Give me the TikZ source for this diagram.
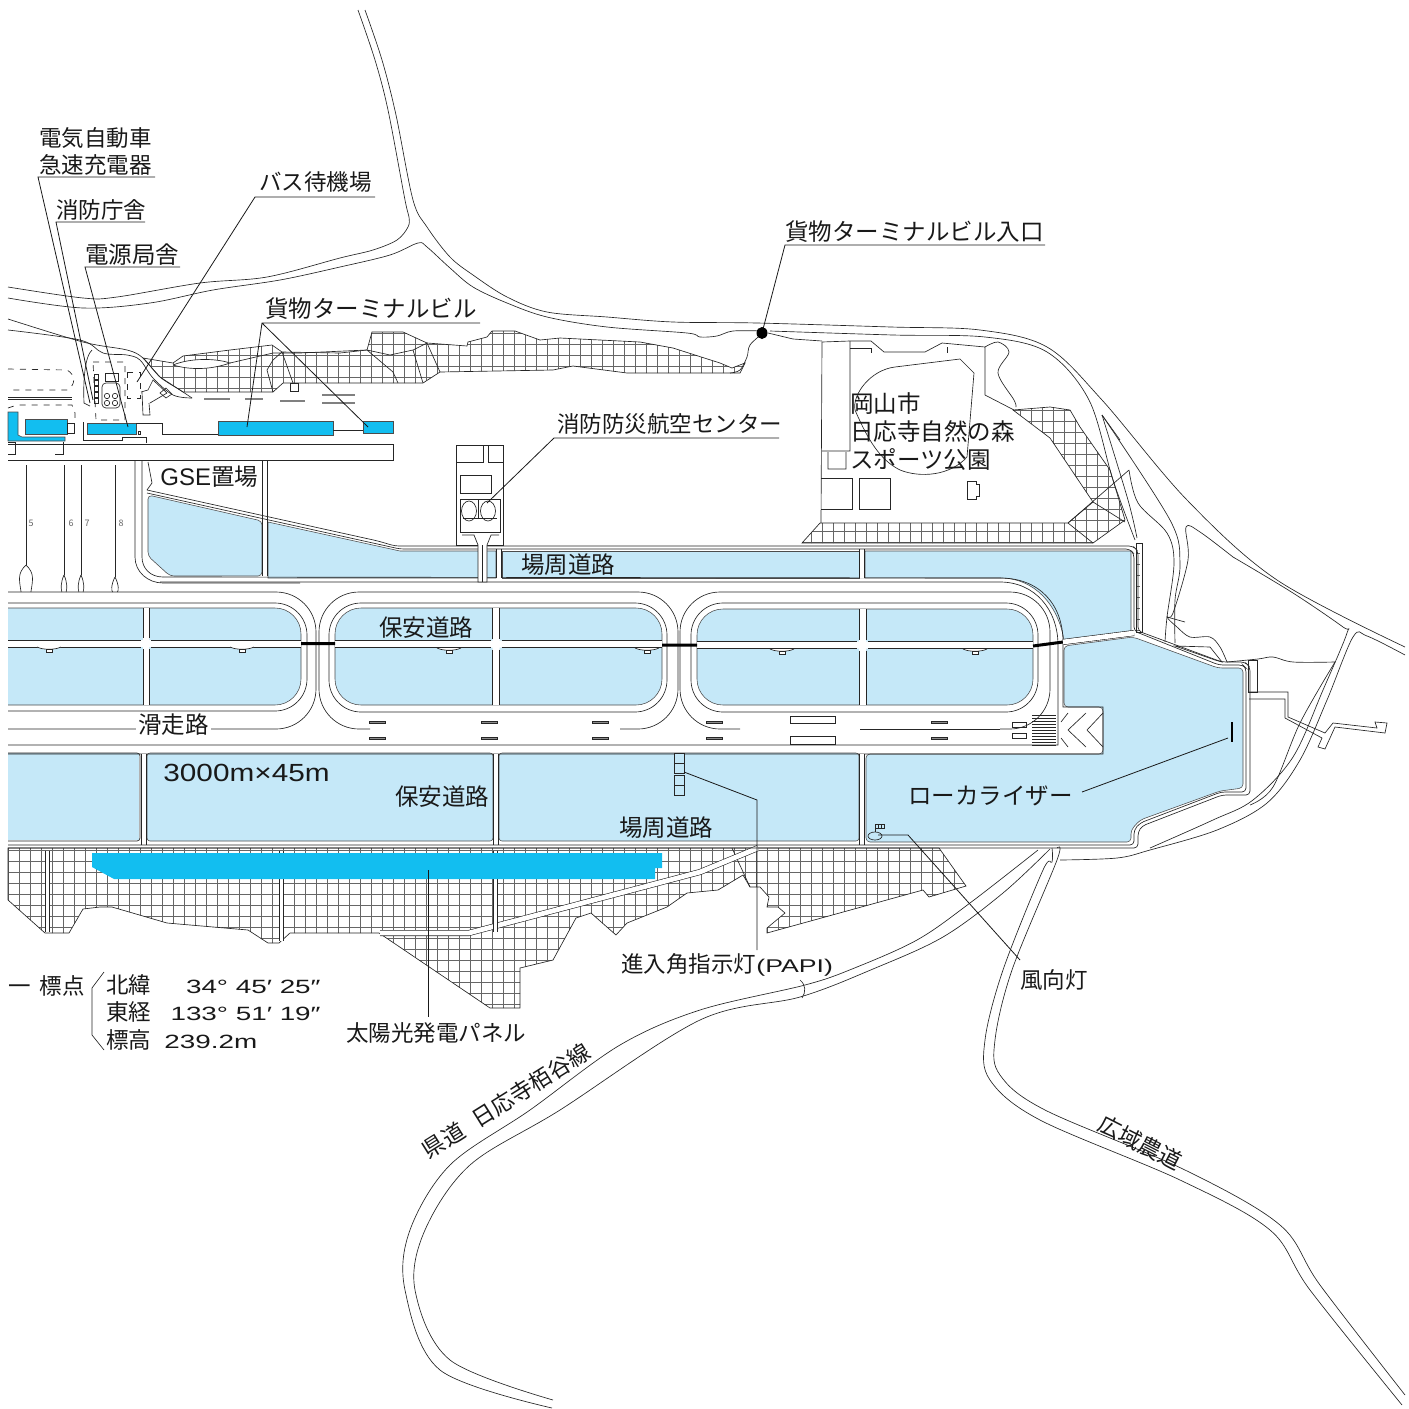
\documentclass[tikz,border=0pt]{standalone}
\usepackage{fontspec}
\setmainfont{Noto Sans CJK JP}
\newfontfamily\latw[FakeStretch=1.45]{Liberation Sans}
\newfontfamily\latm[FakeStretch=1.2]{Liberation Sans}
\newfontfamily\latn{Liberation Sans}
\definecolor{fieldblue}{HTML}{C5E8F8}
\definecolor{bldblue}{HTML}{12BEF0}
\newcommand\hatchgrid[1]{\begin{scope}\clip #1;
\foreach \gx in {8,19,...,1140}{\draw[gridline](\gx,320)--(\gx,1010);}
\foreach \gy in {322,333,...,1010}{\draw[gridline](8,\gy)--(1140,\gy);}
\end{scope}\draw[ln] #1;}
\tikzset{
 ln/.style={line width=.33pt,draw=black!85},
 gridline/.style={line width=.27pt,draw=black!60},
 lead/.style={line width=.4pt,draw=black!90},
 road/.style={line width=.3pt,draw=black!85,double=white,double distance=2.4pt},
 cv/.style={ln,smooth,tension=.55},
 lab/.style={anchor=west,inner sep=0pt,yshift=-.8pt,text height=.88em,text depth=.12em,text=black!90,font=\fontsize{11.75}{12}\selectfont},
 labs/.style={lab,font=\fontsize{11.25}{12}\selectfont},
 bld/.style={fill=bldblue,draw=black!70,line width=.3pt},
 fld/.style={fill=fieldblue,draw=black!70,line width=.28pt},
 num/.style={inner sep=0pt,text=black!60,font=\fontsize{4.5}{5}\selectfont}
}
\begin{document}
\begin{tikzpicture}[x=0.5pt,y=-0.5pt]
\useasboundingbox (0,0) rectangle (1409,1409);
% hatching
\hatchgrid{(8,848)--(939,848)--(966,886)--(929,897)--(923,890)--(767,933)--(767,928)--(785,913)--(778,907)--(767,907)--(769,897)--(760,887)--(750,887)--(743,875)--(718,890)--(687,893)--(667,907)--(627,923)--(616,935)--(591,913)--(576,918)--(553,960)--(520,968)--(520,1008)--(490,1008)--(379,933)--(290,933)--(279,943)--(268,943)--(248,930)--(167,923)--(112,907)--(100,907)--(83,909)--(69,933)--(45,933)--(8,900)--cycle}
\draw[ln] (732,848)--(750,887);
\hatchgrid{(143,358)--(173,363)--(183,356)--(230,350)--(272,345)--(282,352)--(340,353)--(367,350)--(372,332)--(403,332)--(427,343)--(467,346)--(468,342)--(487,337)--(492,331)--(515,331)--(540,340)--(560,338)--(640,342)--(673,348)--(720,363)--(732,368)--(745,363)--(740,373)--(627,373)--(573,366)--(553,370)--(440,372)--(423,383)--(283,383)--(273,392)--(183,392)--(160,377)--cycle}
\draw[ln,fill=white] (173,365)..controls(190,358)and(215,358)..(230,363)..controls(210,370)and(190,370)..(173,365);
\draw[ln] (230,363)--(273,353)--(300,353)--(367,350)--(393,372)--(398,383) (367,350)--(390,355)--(413,350)--(427,343)--(440,372) (413,350)--(423,383) (282,352)--(273,360)--(267,370)--(273,392) (282,352)--(293,383);
\hatchgrid{(1013,410)--(1050,407)--(1070,410)--(1080,427)--(1110,470)--(1125,520)--(1093,543)--(802,543)--(820,523)--(1068,523)--(1093,502)--(1050,438)--cycle}
\hatchgrid{(1136,543)--(1142,543)--(1142,632)--(1136,632)--cycle}
\hatchgrid{(1248,660)--(1257,660)--(1257,692)--(1248,692)--cycle}
\hatchgrid{(1175,646)--(1210,647)--(1222,662)--(1215,660)--cycle}
% white bands in the southern hatch
\draw[road] (380,933)--(469,933)--(700,872)--(758,848);
\draw[line width=2pt,white] (47,851)--(47,932) (281,851)--(281,941) (495,851)--(495,932);
\draw[ln] (45,851)--(45,932) (49,851)--(49,932) (279,851)--(279,941) (283,851)--(283,941) (493,851)--(493,932) (497,851)--(497,932);
% blue fields: three infield loops
\begin{scope}
\clip (8,0) rectangle (1409,1409);
\draw[fld,rounded corners=13pt] (-40,608) rectangle (301,705);
\end{scope}
\draw[fld,rounded corners=13pt] (335,608) rectangle (662,705);
\draw[fld,rounded corners=13pt] (697,609) rectangle (1033,705);
\fill[white] (8,640) rectangle (301,647) (143,608) rectangle (149,705);
\fill[white] (335,640.5) rectangle (662,647.5) (492.5,608) rectangle (499.5,705);
\fill[white] (697,641.5) rectangle (1033,648.5) (859,609) rectangle (866,705);
\draw[ln] (8,640)--(141,640) (151,640)--(301,640) (8,647)--(141,647) (151,647)--(301,647)
 (143,608)--(143,638) (149,608)--(149,638) (143,649)--(143,705) (149,649)--(149,705);
\draw[ln] (335,640.5)--(490.5,640.5) (501.5,640.5)--(662,640.5) (335,647.5)--(490.5,647.5) (501.5,647.5)--(662,647.5)
 (492.5,608)--(492.5,638.5) (499.5,608)--(499.5,638.5) (492.5,649.5)--(492.5,705) (499.5,649.5)--(499.5,705);
\draw[ln] (697,641.5)--(857,641.5) (868,641.5)--(1033,641.5) (697,648.5)--(857,648.5) (868,648.5)--(1033,648.5)
 (859,609)--(859,639.5) (866,609)--(866,639.5) (859,650.5)--(859,705) (866,650.5)--(866,705);
\foreach \bx/\by in {49/647,242/647,449/648,647/648,782/649,975/649}{
 \draw[ln,fill=white] (\bx-12,\by)..controls(\bx-6,\by+3)and(\bx+6,\by+3)..(\bx+12,\by);
 \draw[ln,fill=white] (\bx-3,\by+2) rectangle (\bx+3,\by+5);}
\draw[fld,rounded corners=2pt] (148,495)--(262,521)--(262,576)--(170,576)--(148,556)--cycle;
\draw[fld] (268,522)--(400,551)--(496,551)--(496,578)--(268,578)--cycle;
\draw[fld] (502,551)--(859,551)--(859,578)--(502,578)--cycle;
\draw[fld] (865,551)--(1131,551)--(1131,631)--(1064,640)..controls(1058,605)and(1035,578)..(1000,578)--(865,578)--cycle;
\fill[fieldblue] (8,753) rectangle (139,840);
\draw[ln,rounded corners=1.5pt] (8,753)--(140,753)--(140,841)--(8,841);
\draw[fld,rounded corners=1.5pt] (147,753) rectangle (493,841);
\draw[fld,rounded corners=1.5pt] (499,753) rectangle (859,841);
\draw[fld,rounded corners=2pt] (866,754)--(1103,754)--(1103,707)--(1064,707)--(1064,646)--(1133,637)--(1218,668)--(1243,668)--(1243,788)--(1220,791)--(1140,820)--(1131,830)--(1131,842)--(866,842)--cycle;
% buildings
\draw[bld] (8,412)--(18,412)--(18,435)--(22,437)--(65,437)--(65,441)--(8,441)--cycle;
\draw[bld] (25,419) rectangle (67,434);
\draw[bld] (87,423) rectangle (136,434);
\draw[bld] (218,421) rectangle (333,435);
\draw[bld] (363,421) rectangle (393,433);
\fill[bldblue] (92,853)--(662,853)--(662,868)--(655,868)--(655,879)--(114,879)--(92,867)--cycle;
% loop and runway lines
\draw[ln] (163,577)--(1000,578);
\draw[ln,rounded corners=20pt] (8,592)--(316,592)--(316,729)--(8,729);
\draw[ln,rounded corners=16pt] (8,603)--(307,603)--(307,711)--(8,711);
\draw[ln,rounded corners=20pt] (370,729)--(319,729)--(319,592)--(678,592)--(678,729)--(620,729);
\draw[ln,rounded corners=16pt] (600,712)--(667,712)--(667,603)--(329,603)--(329,712)--(600,712);
\draw[ln,rounded corners=20pt] (740,729)--(680,729)--(680,592)--(1050,592)--(1050,729)--(1000,729);
\draw[ln,rounded corners=16pt] (900,712)--(1038,712)--(1038,603)--(691,603)--(691,712)--(900,712);
\draw[ln] (160,582)--(1000,582)..controls(1035,582)and(1058,610)..(1058,645)--(1058,745)--(8,745);
\draw[ln] (1000,578)..controls(1040,578)and(1063,605)..(1063,642)--(1063,707)--(1103,707)--(1103,754)--(8,754);
\draw[ln] (860,729)--(1000,729);
\draw[line width=1.5pt,black] (301,643.5)--(335,643.5) (662,645)--(697,645) (1033,646)--(1063,642);
\draw[road] (1063,642)--(1134,633);
\draw[road] (144,754)--(144,845);
\draw[road] (496,754)--(496,845);
\draw[road] (862,754)--(862,845);
\draw[road] (265,461)--(265,576);
\draw[road] (862,549)--(862,578);
\draw[road] (499,549)--(499,578);
% perimeter
\draw[ln,rounded corners=2pt] (147,490)--(378,541)--(395,546)--(1133,546)--(1138,551)--(1138,631)--(1222,662)--(1245,662)--(1250,667)--(1250,795)--(1222,795)--(1142,826)--(1138,832)--(1138,848)--(8,848);
\draw[ln,rounded corners=2pt] (147,493)--(400,549)--(1130,549)--(1134,554)--(1134,631)--(1219,665)--(1243,665)--(1246,668)--(1246,792)--(1221,792)--(1140,823)--(1134,830)--(1134,845)--(8,845);
\draw[ln] (135,460)--(135,557)..controls(135,572)and(148,583)..(163,583)--(300,583);
\draw[ln] (142,460)--(142,557)..controls(142,568)and(150,577)..(163,577);
\draw[ln] (148,462)--(152,483)--(147,490);
% runway markings
\foreach \mx in {377,489,600,714,939}{
 \draw[ln,fill=black!45] (\mx-8,721) rectangle (\mx+8,723);
 \draw[ln,fill=black!45] (\mx-8,737) rectangle (\mx+8,739);}
\draw[ln] (790,716) rectangle (835,723) (790,736) rectangle (835,744);
\draw[ln] (1012,722) rectangle (1026,727) (1012,733) rectangle (1026,738);
\foreach \sy in {715,718,...,745}{\draw[ln](1032,\sy)--(1056,\sy);}
\draw[ln] (1103,713)--(1087,730)--(1103,747) (1086,713)--(1068,730)--(1086,747) (1068,713)--(1061,722) (1061,738)--(1068,747);
% PAPI
\foreach \py in {753,763,775,785}{\draw[ln,fill=fieldblue](674,\py) rectangle (684,\py+10);}
% wind cone
\draw[ln] (875,836) ellipse (7 and 4);
\draw[ln] (875,832)--(875,824)--(884,824)--(884,828)--(875,828) (878,824)--(878,828) (881,824)--(881,828);
% localizer
\draw[line width=1.2pt] (1232,722)--(1232,742);
% apron
\draw[ln] (8,444)--(393,444)--(393,460)--(8,460);
\draw[ln] (83,422)--(83,440)--(122,440)--(122,437)--(146,437)--(146,443);
\draw[ln] (136,423)--(162,423)--(162,434)--(218,434) (333,430)--(363,430);
\draw[ln] (67,423) rectangle (74,433) (138,431) rectangle (140,434);
\draw[ln] (8,442)--(15,442)--(15,454)--(8,454) (63,442)--(63,454)--(55,454);
\foreach \nx/\w/\t in {26/7/565,64/3/575,81/3/575,115/3.5/577}{
 \draw[ln] (\nx,465)--(\nx,\t);
 \draw[ln] (\nx,\t)..controls(\nx+\w*1.2,\t+8)and(\nx+\w,\t+14)..(\nx+\w*.7,592);
 \draw[ln] (\nx,\t)..controls(\nx-\w*1.2,\t+8)and(\nx-\w,\t+14)..(\nx-\w*.7,592);}
\node[num] (n5) at (31,523) {5};
\node[num] (n6) at (71,523) {6};
\node[num] (n7) at (87,523) {7};
\node[num] (n8) at (121,523) {8};
% west terminal details
\draw[ln,dashed] (8,369)--(67,370)..controls(76,375)and(76,385)..(67,390)--(8,390);
\draw[ln] (8,397)--(72,397) (8,399)--(72,399);
\draw[ln,dashed] (8,408)--(17,405)--(72,405)--(75,413)--(75,423);
\draw[ln,dashed] (93,362)--(125,362)--(125,420)--(96,420)--cycle;
\draw[ln] (105,373) rectangle (118,381);
\draw[ln,rounded corners=2pt] (102,383) rectangle (120,408);
\foreach \cx in {107,115}{\foreach \cy in {396,403}{\draw[ln](\cx,\cy) circle (2.7);}}
\foreach \wy in {374,380,386,392,398}{\draw[ln](94,\wy) rectangle (98,\wy+5);}
\draw[ln,dashed] (127,372) rectangle (140,398);
\draw[ln] (142,392)--(143,415)--(150,415)--(149,403);
\draw[ln] (141,392)--(148,390)--(153,380)--(167,393)--(150,403);
\draw[ln] (160,393)--(166,388)--(172,394)--(166,398)--cycle;
\draw[ln] (290,383) rectangle (298,391);
\draw[line width=.8pt,black!50] (204,399)--(230,399) (245,399)--(263,399) (280,401)--(305,401) (322,395)--(355,395) (322,403)--(355,403);
\draw[ln] (92,350)..controls(85,356)and(83,380)..(84,403)--(90,406);
\draw[cv] plot coordinates {(8,319)(83,342)(127,350)(143,358)(160,377)(180,390)(192,398)};
\draw[cv] plot coordinates {(8,330)(80,340)(103,353)(127,355)(140,360)(153,378)(173,395)(192,398)};
% roads
\draw[cv] plot coordinates {(358,10)(375,60)(388,110)(405,200)(409,217)(408,227)(397,240)(373,250)(340,258)(267,277)(200,283)(117,297)(83,298)(8,287)};
\draw[cv] plot coordinates {(365,10)(382,60)(396,115)(413,200)(427,227)(450,257)(473,275)(507,297)(547,312)(607,317)(673,322)(757,323)(891,327)(980,330)(1047,347)(1102,400)(1187,500)(1277,580)(1405,647)};
\draw[cv] plot coordinates {(8,298)(83,308)(150,303)(213,290)(280,280)(340,267)(390,255)(418,243)(427,247)(450,268)(473,287)(507,303)(547,317)(607,327)(687,333)(700,337)(717,336)(733,331)(763,331)};
\draw[cv] plot coordinates {(770,331)(893,335)(985,337)(1047,352)(1089,400)(1113,480)(1135,540)};
\draw[cv] plot coordinates {(1102,415)(1128,500)(1137,538)};
\draw[ln] (1102,415)--(1120,440);
\draw[cv] plot coordinates {(1102,415)(1170,520)(1180,563)(1175,600)(1175,643)};
\draw[cv] plot coordinates {(1129,470)(1138,503)(1167,533)(1174,563)(1167,617)(1165,642)};
\draw[cv] plot coordinates {(1233,557)(1200,532)(1186,527)(1188,560)(1173,613)(1167,617)(1177,627)(1190,637)(1210,637)(1220,647)(1227,662)};
\draw[ln] (1167,617)--(1185,622);
\draw[cv] plot coordinates {(1233,557)(1293,593)(1343,627)(1347,633)(1323,690)(1293,757)(1253,800)(1213,820)(1150,848)};
\draw[cv] plot coordinates {(1405,655)(1367,636)(1353,637)(1327,700)(1300,760)(1267,803)(1217,830)(1150,850)(1117,858)(1060,860)};
\draw[cv] plot coordinates {(1335,662)(1300,723)(1273,787)(1250,805)};
\draw[cv] plot coordinates {(1227,662)(1258,659)(1273,657)(1293,662)(1335,662)};
\draw[ln] (1249,692)--(1288,692)--(1288,717)--(1325,733)--(1333,723)--(1377,728)--(1375,722)--(1387,723)--(1385,733)--(1335,727)--(1325,749)--(1318,747)--(1322,738)--(1285,718)--(1285,699)--(1249,699);
% south roads
\draw[cv] plot coordinates {(1038,850)(970,903)(917,940)(852,969)(805,985)(700,1010)(620,1045)(530,1110)(450,1165)(410,1230)(405,1290)(440,1370)(552,1408)};
\draw[cv] plot coordinates {(1050,849)(1003,893)(943,937)(873,969)(800,997)(700,1020)(560,1110)(470,1165)(425,1230)(415,1290)(450,1360)(553,1400)};
\draw[cv] plot coordinates {(1052,848)(1052,862)(1043,870)(1003,970)(985,1040)(990,1080)(1040,1120)(1180,1180)(1270,1230)(1310,1290)(1402,1405)};
\draw[cv] plot coordinates {(1057,848)(1057,860)(1012,970)(995,1040)(1000,1075)(1045,1110)(1185,1170)(1280,1225)(1320,1285)(1405,1395)};
\draw[ln] (800,980)..controls(806,985)and(806,992)..(802,998);
% park
\draw[ln] (822,342)--(821,523) (850,341)--(850,451)--(822,451) (828,452)--(828,469)--(846,469)--(846,452);
\draw[ln] (821,478)--(852,478)--(852,509)--(821,509) (859,478) rectangle (890,509);
\draw[ln] (967,481)--(976,481)--(976,484)--(979,484)--(979,496)--(976,496)--(976,499)--(967,499)--cycle;
\draw[ln] (822,342)--(850,341)--(871,341)--(884,352)--(925,352)--(942,343)--(985,347)--(985,395)--(1014,410);
\draw[ln] (850,348)--(871,348)--(871,353) (947,347)--(947,353);
\draw[ln] (895,367)--(960,359)--(974,373)--(967,457)..controls(950,476)and(920,478)..(900,470)..controls(880,460)and(868,440)..(855,410)..controls(852,395)and(870,370)..(895,367);
\draw[cv] plot coordinates {(985,347)(998,342)(1009,352)(998,373)(1014,400)(1016,407)};
\draw[ln] (768,333)--(793,339)--(822,341);
\draw[cv] plot coordinates {(763,333)(750,345)(747,357)(740,370)(730,373)};
\draw[ln] (1068,523)--(1129,470) (1093,502)--(1125,522) (1068,523)--(1093,543);
% fire centre
\draw[ln,fill=white] (456,445) rectangle (503,545);
\draw[ln] (456,462)--(483,462)--(483,445) (488,445)--(488,462)--(503,462);
\draw[ln] (460,475) rectangle (491,493);
\draw[ln] (460,499) rectangle (500,532) (463,518)--(497,518) (478,499)--(478,518);
\draw[ln] (469,511) ellipse (7.5 and 10) (488,511) ellipse (7.5 and 10);
\draw[ln,fill=white] (462,535)--(474,535)--(478,545)--(478,582)--(487,582)--(487,545)--(491,535)--(499,535);
\draw[ln] (482.5,545)--(482.5,582);
% labels
\node[labs] (t1) at (39,137) {電気自動車};
\node[labs] (t2) at (39,164) {急速充電器};
\node[labs] (t3) at (56,209) {消防庁舎};
\node[lab] (t4) at (85,254) {電源局舎};
\node[labs] (t5) at (259,181) {バス待機場};
\node[lab] (t6) at (265,308) {貨物ターミナルビル};
\node[lab] (t7) at (785,231) {貨物ターミナルビル入口};
\node[labs] (t8) at (557,423) {消防防災航空センター};
\node[lab] (t9) at (850,403) {岡山市};
\node[lab] (t10) at (850,431) {日応寺自然の森};
\node[lab] (t11) at (850,459) {スポーツ公園};
\node[lab] (t12) at (160,476) {{\latn\fontsize{12}{12}\selectfont GSE}置場};
\node[lab] (t13) at (521,564) {場周道路};
\node[lab] (t14) at (379,627) {保安道路};
\node[lab,fill=white,inner xsep=1pt] (t15) at (136,724) {滑走路};
\node[lab] (t16) at (163,772) {\latm\fontsize{12.4}{12}\selectfont 3000m×45m};
\node[lab] (t17) at (395,796) {保安道路};
\node[lab] (t18) at (619,827) {場周道路};
\node[lab] (t19) at (908,795) {ローカライザー};
\node[labs] (t20) at (621,963) {進入角指示灯{\latw\fontsize{9.2}{12}\selectfont (PAPI)}};
\node[labs] (t21) at (1020,979) {風向灯};
\node[labs] (t22) at (346,1032) {太陽光発電パネル};
\node[labs] (t23) at (8,985) {一\hspace{.4em}標点};
\node[labs] (t24) at (106,984) {北緯};
\node[labs,anchor=east] (t25) at (321,984) {\latw\fontsize{9.6}{12}\selectfont 34° 45′ 25″};
\node[labs] (t26) at (106,1011) {東経};
\node[labs,anchor=east] (t27) at (321,1011) {\latw\fontsize{9.6}{12}\selectfont 133° 51′ 19″};
\node[labs] (t28) at (106,1039) {標高};
\node[labs] (t29) at (164,1039) {\latw\fontsize{9.6}{12}\selectfont 239.2m};
\node[labs,anchor=center,rotate=32] (t30) at (507,1100) {県道\hspace{.6em}日応寺栢谷線};
\node[labs,anchor=center,rotate=-27] (t31) at (1140,1142) {広域農道};
\draw[ln] (104,972)--(92,988)--(92,1035)--(104,1050);
% leaders
\coordinate (a1) at (38,177); \coordinate (a2) at (56,222); \coordinate (a3) at (85,267);
\coordinate (a4) at (255,197); \coordinate (a5) at (262,323); \coordinate (a6) at (785,245);
\coordinate (a7) at (554,438);
\draw[lead] (155,177)--(a1)--(90,403);
\draw[lead] (145,222)--(a2)--(93,400);
\draw[lead] (180,267)--(a3)--(128,427);
\draw[lead] (375,197)--(a4)--(137,382);
\draw[lead] (480,323)--(a5)--(247,427) (a5)--(368,427);
\draw[lead] (1045,245)--(a6)--(762,333);
\fill (762,333) ellipse (5.5 and 6);
\draw[lead] (779,438)--(a7)--(487,503);
\draw[lead] (1082,792)--(1228,738);
\draw[lead] (684,772)--(757,800)--(757,950);
\draw[lead] (878,835)--(908,835)--(1020,960);
\draw[lead] (428,870)--(428,1017);
\end{tikzpicture}
\end{document}
